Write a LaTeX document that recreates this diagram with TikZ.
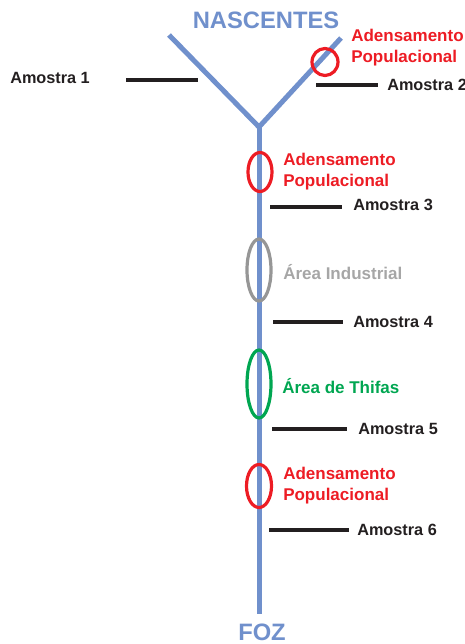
\documentclass[tikz,border=0pt]{standalone}
\usepackage{fontspec}
\setmainfont{Liberation Sans}
\usepackage{tikz}
\usetikzlibrary{calc}

\definecolor{riocor}{RGB}{112,144,204}
\definecolor{verm}{RGB}{237,28,36}
\definecolor{verde}{RGB}{0,166,81}
\definecolor{cinza}{RGB}{150,150,150}
\definecolor{preto}{RGB}{35,31,32}

\tikzset{
	riolinha/.style={riocor, line width=3.75pt},
	zona/.style={line width=2.4pt},
	marca/.style={preto, line width=2.5pt},
	amostra/.style={anchor=west, inner sep=0pt, text=preto, font=\bfseries\fontsize{12.2}{14}\selectfont},
	nota/.style={anchor=west, inner sep=0pt, align=left, font=\bfseries\fontsize{12.75}{15.75}\selectfont},
	extremo/.style={inner sep=0pt, text=riocor, font=\bfseries\fontsize{17.8}{20}\selectfont}
}

\begin{document}
\begin{tikzpicture}[x=0.75pt, y=-0.75pt]
	\useasboundingbox (0,0) rectangle (465,644);
	% rio
	\coordinate (E) at (169,35);
	\coordinate (D) at (341,38);
	\coordinate (J) at (259,127);
	\coordinate (F) at (259,614);
	\draw[riolinha] (E) -- (J) -- (D);
	\draw[riolinha] (J) -- (F);
	\node[extremo] (nasc) at (266,20) {NASCENTES};
	\node[extremo] (foz) at (262,632) {FOZ};
	% zonas
	\draw[zona, verm] (325,62) ellipse [x radius=13, y radius=13.5];
	\draw[zona, verm] (260,172) ellipse [x radius=12, y radius=19.5];
	\draw[zona, cinza] (259,270) ellipse [x radius=12, y radius=31];
	\draw[zona, verde] (259,384) ellipse [x radius=12, y radius=34];
	\draw[zona, verm] (259,486) ellipse [x radius=12.5, y radius=21.5];
	\node[nota, text=verm] (z1) at (351,48) {Adensamento\\Populacional};
	\node[nota, text=verm] (z2) at (283,172) {Adensamento\\Populacional};
	\node[nota, text=cinza!85!white] (z3) at (283,272) {Área Industrial};
	\node[nota, text=verde] (z4) at (282,386) {Área de Thifas};
	\node[nota, text=verm] (z5) at (283,486) {Adensamento\\Populacional};
	% amostras
	\node[amostra] (a1) at (10,78) {Amostra 1};
	\node[amostra] (a2) at (387,85) {Amostra 2};
	\node[amostra] (a3) at (353,205) {Amostra 3};
	\node[amostra] (a4) at (353,322) {Amostra 4};
	\node[amostra] (a5) at (358,429) {Amostra 5};
	\node[amostra] (a6) at (357,530) {Amostra 6};
	\coordinate (m1a) at (126,80);  \coordinate (m1b) at (198,80);
	\coordinate (m2a) at (316,85);  \coordinate (m2b) at (378,85);
	\coordinate (m3a) at (270,207); \coordinate (m3b) at (342,207);
	\coordinate (m4a) at (273,322); \coordinate (m4b) at (343,322);
	\coordinate (m5a) at (272,429); \coordinate (m5b) at (347,429);
	\coordinate (m6a) at (269,530); \coordinate (m6b) at (349,530);
	\foreach \i in {1,...,6}
		\draw[marca] (m\i a) -- (m\i b);
\end{tikzpicture}
\end{document}
